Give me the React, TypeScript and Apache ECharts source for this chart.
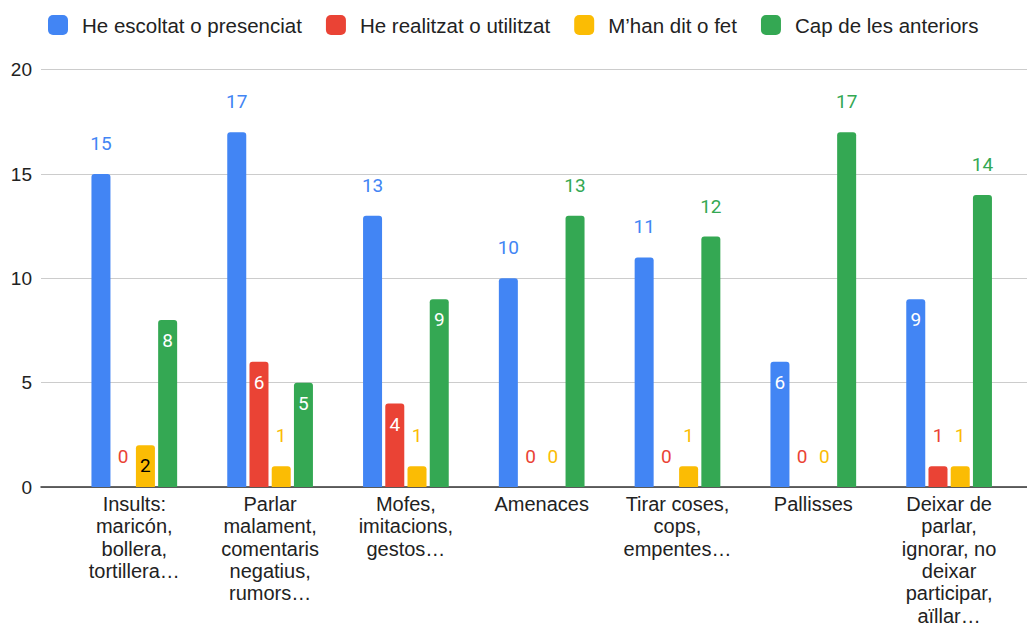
import React, { useEffect, useRef } from "react";
import * as echarts from "echarts";

const categories = [
  "Insults:\nmaricón,\nbollera,\ntortillera…",
  "Parlar\nmalament,\ncomentaris\nnegatius,\nrumors…",
  "Mofes,\nimitacions,\ngestos…",
  "Amenaces",
  "Tirar coses,\ncops,\nempentes…",
  "Pallisses",
  "Deixar de\nparlar,\nignorar, no\ndeixar\nparticipar,\naïllar…",
];
const seriesNames = [
  "He escoltat o presenciat",
  "He realitzat o utilitzat",
  "M’han dit o fet",
  "Cap de les anteriors",
];
const escoltat = [15, 17, 13, 10, 11, 6, 9];
const realitzat = [0, 6, 4, 0, 0, 0, 1];
const hanDit = [2, 1, 1, 0, 1, 0, 1];
const cap = [8, 5, 9, 13, 12, 17, 14];
const yTicks = [0, 5, 10, 15, 20];

const colors = ["#4285F4", "#EA4335", "#FBBC04", "#34A853"];
const insideColors = ["#ffffff", "#ffffff", "#000000", "#ffffff"];

export default function App() {
  const ref = useRef<HTMLDivElement>(null);
  useEffect(() => {
    if (!ref.current) return;
    const chart = echarts.init(ref.current, null, { renderer: "svg" });
    const values = [escoltat, realitzat, hanDit, cap];
    const top = 69.7;
    const bottom = 140;
    const series = values.map((vals, si) => ({
      name: seriesNames[si],
      type: "bar",
      xAxisIndex: 1,
      yAxisIndex: 1,
      barWidth: 19,
      barGap: "17%",
      itemStyle: { color: colors[si], borderRadius: [3, 3, 0, 0] },
      data: vals.map((v) => {
        const inside = v >= 2 && v < 10;
        return {
          value: v,
          label: inside
            ? {
                show: true,
                position: "insideTop",
                distance: 11,
                color: insideColors[si],
              }
            : {
                show: true,
                position: "top",
                distance: 21,
                color: colors[si],
              },
        };
      }),
      label: {
        show: true,
        fontFamily: "Roboto",
        fontSize: 19,
      },
    }));
    chart.setOption({
      animation: false,
      color: colors,
      legend: {
        left: 43,
        top: 9.5,
        icon: "roundRect",
        itemWidth: 20,
        itemHeight: 20,
        itemGap: 24,
        data: seriesNames,
        textStyle: {
          fontFamily: "Liberation Sans",
          fontSize: 20.5,
          color: "#222222",
          padding: [0, 0, 0, 9],
        },
      },
      grid: [
        { left: 41, right: 0, top, bottom, containLabel: false, outerBoundsMode: "none" },
        { left: 66.4, right: 10, top, bottom, containLabel: false, outerBoundsMode: "none" },
      ],
      xAxis: [
        {
          type: "category",
          gridIndex: 0,
          data: [""],
          axisLine: { show: true, lineStyle: { color: "#333333", width: 1.5 } },
          axisTick: { show: false },
          axisLabel: { show: false },
        },
        {
          type: "category",
          gridIndex: 1,
          data: categories,
          axisLine: { show: false },
          axisTick: { show: false },
          axisLabel: {
            interval: 0,
            margin: 5.5,
            fontFamily: "Liberation Sans",
            fontSize: 20,
            lineHeight: 22.4,
            color: "#222222",
            align: "center",
          },
        },
      ],
      yAxis: [
        {
          type: "value",
          gridIndex: 0,
          min: yTicks[0],
          max: yTicks[yTicks.length - 1],
          interval: 5,
          axisLine: { show: false },
          axisTick: { show: false },
          splitLine: { lineStyle: { color: "#cccccc", width: 1 } },
          axisLabel: {
            margin: 9,
            fontFamily: "Liberation Sans",
            fontSize: 19,
            color: "#222222",
          },
        },
        {
          type: "value",
          gridIndex: 1,
          min: yTicks[0],
          max: yTicks[yTicks.length - 1],
          interval: 5,
          show: false,
          splitLine: { show: false },
        },
      ],
      series,
    });
    return () => chart.dispose();
  }, []);
  return <div ref={ref} style={{ width: 1027, height: 627, position: "absolute", left: 0, top: 0 }} />;
}
